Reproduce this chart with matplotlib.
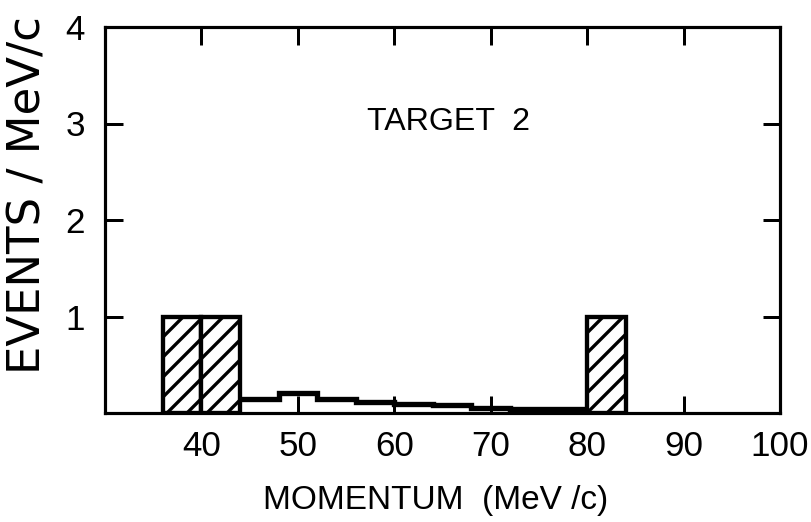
import matplotlib
matplotlib.use("Agg")
import matplotlib.pyplot as plt
import numpy as np

# Hatched bins (MeV/c) and their event densities
hatched_left = [36, 40, 80]
hatched_width = [4, 4, 4]
hatched_height = [1, 1, 1]

# Smooth background spectrum as a step histogram
bg_edges = [44, 48, 52, 56, 60, 64, 68, 72, 76, 80]
bg_values = [0.15, 0.21, 0.14, 0.11, 0.09, 0.08, 0.05, 0.045, 0.04]

x_ticks = [40, 50, 60, 70, 80, 90, 100]
x_ticklabels = ["40", "50", "60", "70", "80", "90", "100"]
y_ticks = [1, 2, 3, 4]
y_ticklabels = ["1", "2", "3", "4"]

DPI = 120
plt.rcParams["font.family"] = ["Liberation Sans", "DejaVu Sans"]
plt.rcParams["hatch.linewidth"] = 2.0
plt.rcParams["hatch.color"] = "black"

fig = plt.figure(figsize=(811 / DPI, 522 / DPI), dpi=DPI)
ax = fig.add_axes([105 / 811, 1 - 413 / 522, 675 / 811, 386 / 522])

ax.bar(hatched_left, hatched_height, width=hatched_width, align="edge",
       facecolor="white", edgecolor="black", linewidth=2.6, hatch="//",
       zorder=3)
ax.stairs(bg_values, bg_edges, color="black", linewidth=3.2, zorder=2,
          baseline=None)

ax.set_xlim(30, 100)
ax.set_ylim(0, 4)

ax.set_xticks(x_ticks)
ax.set_xticklabels(x_ticklabels)
ax.set_yticks(y_ticks)
ax.set_yticklabels(y_ticklabels)

ax.tick_params(axis="both", which="major", direction="in", length=10.5,
               width=1.8, labelsize=21, top=True, right=True, color="black")
ax.tick_params(axis="x", pad=10)
ax.tick_params(axis="y", pad=12)

for sp in ax.spines.values():
    sp.set_linewidth(1.9)

ax.text((367 - 105) / 675, 0.754, "TARGET  2",
        transform=ax.transAxes, fontsize=19.3, ha="left", va="center")

fig.text(28 / 811, 1 - 195 / 522, "EVENTS / MeV/c", rotation=90,
         family="DejaVu Sans", fontsize=27, ha="center", va="center")
fig.text(436 / 811, 1 - 500 / 522, "MOMENTUM  (MeV /c)", fontsize=20,
         ha="center", va="center")

fig.savefig("out.png", dpi=DPI, facecolor="white")
